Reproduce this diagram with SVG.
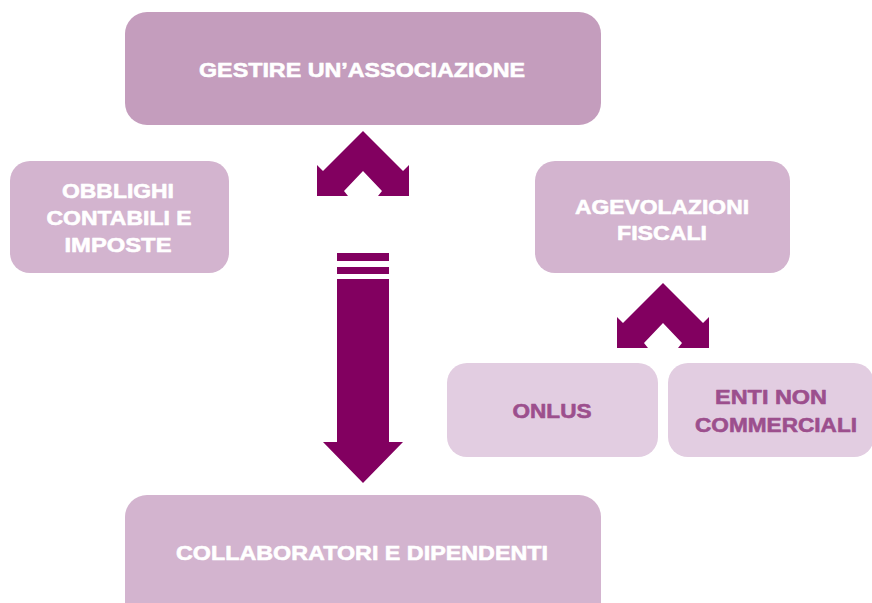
<svg xmlns="http://www.w3.org/2000/svg" width="872" height="603" viewBox="0 0 872 603">
<style>
.t{font-family:"Liberation Sans",Arial,sans-serif;font-weight:bold;font-size:21px;text-anchor:middle;stroke-width:0.6px;stroke-linejoin:round}
.w{fill:#ffffff;stroke:#ffffff}
.p{fill:#9c4f8d;stroke:#9c4f8d}
.dk{fill:#c49dbd}
.md{fill:#d3b4cf}
.lt{fill:#e2cde1}
.ar{fill:#820060}
</style>
<defs>
<path id="chev" d="M363,131 L403,171 L409,165 L409,196 L378,196 L382,191 L363,171 L344,191 L348,196 L317,196 L317,165 L323,171 Z"/>
</defs>
<rect width="872" height="603" fill="#ffffff"/>
<g id="connectors">
<use href="#chev" class="ar"/>
<use href="#chev" class="ar" transform="translate(300,152)"/>
<g id="down-arrow" class="ar">
<rect x="337" y="253" width="52" height="8"/>
<rect x="337" y="267" width="52" height="7"/>
<path d="M337,279 L389,279 L389,442 L403,442 L363,483 L323,442 L337,442 Z"/>
</g>
</g>
<g id="gestire">
<rect x="125" y="12" width="476" height="113" rx="22" class="dk"/>
<text x="362" y="77" class="t w" textLength="326" lengthAdjust="spacingAndGlyphs">GESTIRE UN’ASSOCIAZIONE</text>
</g>
<g id="obblighi">
<rect x="10" y="161" width="219" height="112" rx="20" class="md"/>
<text x="118" y="198" class="t w" textLength="112" lengthAdjust="spacingAndGlyphs">OBBLIGHI</text>
<text x="119" y="225" class="t w" textLength="145" lengthAdjust="spacingAndGlyphs">CONTABILI E</text>
<text x="118" y="252" class="t w" textLength="107" lengthAdjust="spacingAndGlyphs">IMPOSTE</text>
</g>
<g id="agevolazioni">
<rect x="535" y="161" width="255" height="112" rx="20" class="md"/>
<text x="662" y="214" class="t w" textLength="174" lengthAdjust="spacingAndGlyphs">AGEVOLAZIONI</text>
<text x="662" y="240" class="t w" textLength="90" lengthAdjust="spacingAndGlyphs">FISCALI</text>
</g>
<g id="onlus">
<rect x="447" y="363" width="211" height="94" rx="20" class="lt"/>
<text x="552" y="418" class="t p" textLength="79" lengthAdjust="spacingAndGlyphs">ONLUS</text>
</g>
<g id="enti">
<rect x="668" y="363" width="206" height="94" rx="20" class="lt"/>
<text x="771" y="404" class="t p" textLength="112" lengthAdjust="spacingAndGlyphs">ENTI NON</text>
<text x="776" y="432" class="t p" textLength="162" lengthAdjust="spacingAndGlyphs">COMMERCIALI</text>
</g>
<g id="collaboratori">
<rect x="125" y="495" width="476" height="130" rx="22" class="md"/>
<text x="362" y="560" class="t w" textLength="372" lengthAdjust="spacingAndGlyphs">COLLABORATORI E DIPENDENTI</text>
</g>
</svg>
